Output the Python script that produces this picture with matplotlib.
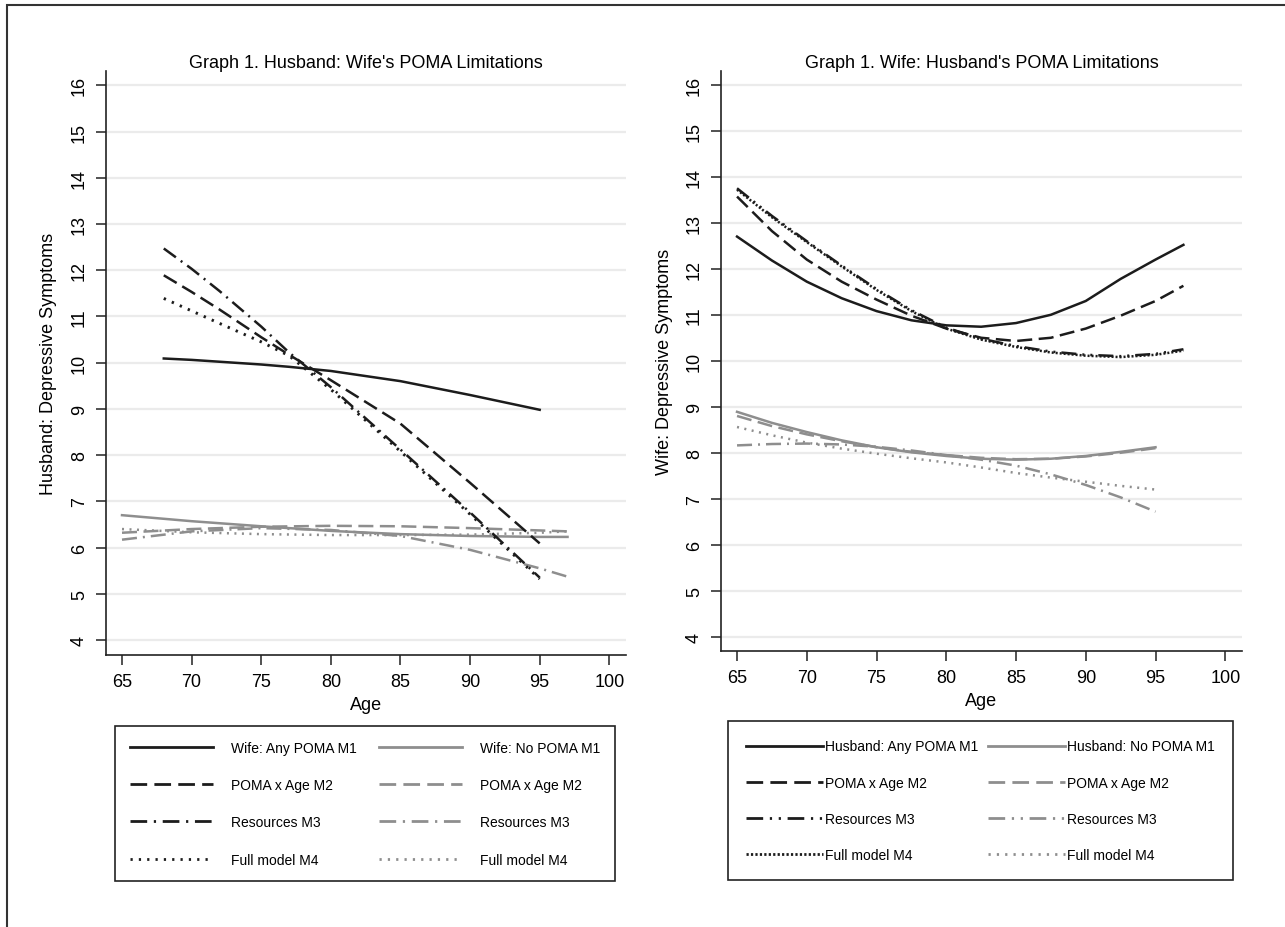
import matplotlib
matplotlib.use("Agg")
import matplotlib.pyplot as plt
from matplotlib.lines import Line2D
from matplotlib.patches import Rectangle

plt.rcParams['font.family'] = ['Liberation Sans', 'DejaVu Sans']

BLACK = '#1c1c1c'
GRAY = '#8e8e8e'

# ---- Graph 1: husband, by wife's POMA limitations ----
h_age_any = [68, 70, 72, 75, 77, 80, 85, 90, 95]
h_any_m1 = [10.09, 10.06, 10.02, 9.96, 9.91, 9.82, 9.60, 9.30, 8.98]
h_any_m2 = [11.89, 11.53, 11.15, 10.55, 10.17, 9.62, 8.68, 7.40, 6.09]
h_any_m3 = [12.47, 12.03, 11.55, 10.78, 10.22, 9.47, 8.12, 6.76, 5.35]
h_any_m4 = [11.39, 11.12, 10.85, 10.45, 10.15, 9.42, 8.08, 6.72, 5.32]

h_age_no = [65, 70, 75, 80, 85, 90, 95, 97]
h_no_m1 = [6.70, 6.57, 6.46, 6.36, 6.29, 6.25, 6.23, 6.23]
h_no_m2 = [6.32, 6.40, 6.45, 6.47, 6.46, 6.42, 6.37, 6.35]
h_no_m3 = [6.17, 6.35, 6.42, 6.38, 6.25, 5.95, 5.55, 5.37]
h_no_m4 = [6.40, 6.33, 6.29, 6.27, 6.27, 6.28, 6.32, 6.35]

# ---- Graph 1: wife, by husband's POMA limitations ----
w_age_any = [65, 67.5, 70, 72.5, 75, 77.5, 80, 82.5, 85, 87.5, 90, 92.5, 95, 97]
w_any_m1 = [12.70, 12.18, 11.72, 11.36, 11.08, 10.88, 10.77, 10.74, 10.82, 11.00, 11.30, 11.78, 12.20, 12.52]
w_any_m2 = [13.57, 12.82, 12.20, 11.72, 11.33, 10.98, 10.70, 10.50, 10.43, 10.50, 10.70, 10.98, 11.30, 11.63]
w_any_m3 = [13.75, 13.15, 12.60, 12.07, 11.56, 11.10, 10.72, 10.48, 10.32, 10.20, 10.13, 10.10, 10.15, 10.25]
w_any_m4 = [13.72, 13.12, 12.58, 12.05, 11.54, 11.08, 10.70, 10.46, 10.30, 10.18, 10.11, 10.08, 10.13, 10.22]

w_age_no = [65, 67.5, 70, 72.5, 75, 77.5, 80, 82.5, 85, 87.5, 90, 92.5, 95]
w_no_m1 = [8.89, 8.65, 8.45, 8.27, 8.12, 8.01, 7.93, 7.87, 7.85, 7.87, 7.93, 8.02, 8.12]
w_no_m2 = [8.80, 8.58, 8.40, 8.25, 8.12, 8.02, 7.95, 7.89, 7.86, 7.87, 7.92, 8.00, 8.10]
w_no_m3 = [8.16, 8.19, 8.20, 8.18, 8.13, 8.05, 7.95, 7.85, 7.72, 7.53, 7.30, 7.03, 6.72]
w_no_m4 = [8.56, 8.38, 8.22, 8.09, 7.98, 7.88, 7.79, 7.68, 7.56, 7.46, 7.37, 7.28, 7.20]

x_ticks = [65, 70, 75, 80, 85, 90, 95, 100]
y_ticks = list(range(4, 17))

DASH = (6, 2.6)
DASHDOT = (6, 2.4, 0.8, 2.4)
DASHDOTDOT = (6, 2.4, 0.8, 2.4, 0.8, 2.4)
DOTS = (0.8, 2.2)
DENSE_DOTS = (0.8, 0.8)


def style_axes(ax, title, ylabel, ylabelpad):
    ax.set_xlim(63.85, 101.2)
    ax.set_ylim(3.675, 16.31)
    ax.set_xticks(x_ticks)
    ax.set_yticks(y_ticks)
    ax.grid(axis='y', color='#ebebeb', lw=1.6)
    ax.set_axisbelow(True)
    for side in ['top', 'right']:
        ax.spines[side].set_visible(False)
    for side in ['left', 'bottom']:
        ax.spines[side].set_linewidth(1.2)
        ax.spines[side].set_color('#222222')
    ax.tick_params(length=7, width=1.1, pad=6, labelsize=13, color='#222222')
    plt.setp(ax.get_yticklabels(), rotation=90, va='center')
    ax.set_title(title, fontsize=13, pad=3)
    ax.set_xlabel('Age', fontsize=13, labelpad=4)
    ax.set_ylabel(ylabel, fontsize=13, labelpad=ylabelpad)


fig = plt.figure(figsize=(12.85, 9.28), dpi=100)
lw = 1.8

# left panel
ax1 = fig.add_axes([106 / 1285, 1 - 656 / 928, 520 / 1285, 584 / 928])
ax1.plot(h_age_no, h_no_m1, color=GRAY, lw=lw)
ax1.plot(h_age_no, h_no_m2, color=GRAY, lw=lw, dashes=DASH)
ax1.plot(h_age_no, h_no_m3, color=GRAY, lw=lw, dashes=DASHDOT)
ax1.plot(h_age_no, h_no_m4, color=GRAY, lw=lw, dashes=DOTS)
ax1.plot(h_age_any, h_any_m1, color=BLACK, lw=lw)
ax1.plot(h_age_any, h_any_m2, color=BLACK, lw=lw, dashes=DASH)
ax1.plot(h_age_any, h_any_m3, color=BLACK, lw=lw, dashes=DASHDOT)
ax1.plot(h_age_any, h_any_m4, color=BLACK, lw=2.1, dashes=DOTS)
style_axes(ax1, "Graph 1. Husband: Wife's POMA Limitations",
           'Husband: Depressive Symptoms', 10)

# right panel
ax2 = fig.add_axes([721 / 1285, 1 - 652 / 928, 521 / 1285, 580 / 928])
ax2.plot(w_age_no, w_no_m1, color=GRAY, lw=lw)
ax2.plot(w_age_no, w_no_m2, color=GRAY, lw=lw, dashes=DASH)
ax2.plot(w_age_no, w_no_m3, color=GRAY, lw=lw, dashes=DASHDOT)
ax2.plot(w_age_no, w_no_m4, color=GRAY, lw=lw, dashes=DOTS)
ax2.plot(w_age_any, w_any_m1, color=BLACK, lw=lw)
ax2.plot(w_age_any, w_any_m2, color=BLACK, lw=lw, dashes=DASH)
ax2.plot(w_age_any, w_any_m3, color=BLACK, lw=lw, dashes=DASHDOTDOT)
ax2.plot(w_age_any, w_any_m4, color=BLACK, lw=lw, dashes=DENSE_DOTS)
style_axes(ax2, "Graph 1. Wife: Husband's POMA Limitations",
           'Wife: Depressive Symptoms', 9)
ax2.set_ylim(3.69, 16.3)


def make_legend(ax, labels, box, handlelength, textpad, spacing, pad, right_style):
    dot_any = DENSE_DOTS if right_style else DOTS
    dd = DASHDOTDOT if right_style else DASHDOT
    handles = [
        Line2D([], [], color=BLACK, lw=2),
        Line2D([], [], color=BLACK, lw=2, dashes=DASH),
        Line2D([], [], color=BLACK, lw=2, dashes=dd),
        Line2D([], [], color=BLACK, lw=2, dashes=dot_any),
        Line2D([], [], color=GRAY, lw=2),
        Line2D([], [], color=GRAY, lw=2, dashes=DASH),
        Line2D([], [], color=GRAY, lw=2, dashes=dd),
        Line2D([], [], color=GRAY, lw=2, dashes=DOTS),
    ]
    leg = ax.legend(handles, labels, loc='upper left', ncol=2, mode='expand',
                    bbox_to_anchor=box, bbox_transform=fig.transFigure,
                    fontsize=10, frameon=True, fancybox=False, framealpha=1,
                    edgecolor='#222222', handlelength=handlelength,
                    handletextpad=textpad, labelspacing=spacing, borderpad=pad,
                    borderaxespad=0, columnspacing=1.0)
    leg.get_frame().set_linewidth(1.2)
    return leg


# boxes as (left, bottom, width, height) in figure fractions
make_legend(ax1,
            ['Wife: Any POMA M1', 'POMA x Age M2', 'Resources M3', 'Full model M4',
             'Wife: No POMA M1', 'POMA x Age M2', 'Resources M3', 'Full model M4'],
            (115 / 1285, 1 - 882 / 928, 500 / 1285, 155 / 928),
            6.0, 1.3, 1.68, 1.05, False)
make_legend(ax2,
            ['Husband: Any POMA M1', 'POMA x Age M2', 'Resources M3', 'Full model M4',
             'Husband: No POMA M1', 'POMA x Age M2', 'Resources M3', 'Full model M4'],
            (728 / 1285, 1 - 882 / 928, 505 / 1285, 160 / 928),
            5.5, 0.15, 1.59, 1.33, True)

# outer frame of the page (right and bottom fall off the image)
fig.add_artist(Rectangle((7 / 1285, -0.1), 1.2, 0.1 + 1 - 6 / 928,
                         transform=fig.transFigure, fill=False,
                         edgecolor='#333333', lw=1.5))

fig.savefig('out.png', dpi=100)
